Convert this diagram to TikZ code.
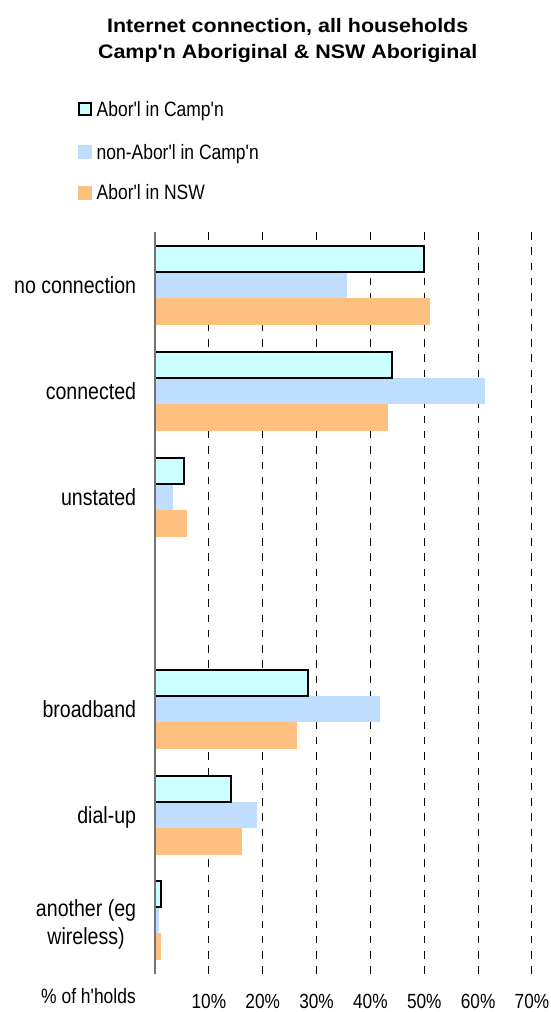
\documentclass[tikz,border=0pt]{standalone}
\usepackage{fontspec}
\usepackage{tikz}
\newfontfamily\chartfont{Liberation Sans}[FakeStretch=0.84]
\newfontfamily\titlefont{Liberation Sans}[FakeStretch=1.1]
\definecolor{campcol}{RGB}{204,255,255}
\definecolor{noncol}{RGB}{191,222,255}
\definecolor{nswcol}{RGB}{255,191,127}

\begin{document}
\begin{tikzpicture}[x=1pt, y=-1pt,
  campbar/.style={fill=campcol, draw=black, line width=2pt},
  nonbar/.style={fill=noncol},
  nswbar/.style={fill=nswcol},
  gridline/.style={black, line width=1pt, dash pattern=on 7.5pt off 7.8pt},
  axisline/.style={black!55, line width=1.2pt},
  catlabel/.style={anchor=base east, inner sep=0pt, align=center, font=\chartfont\fontsize{23.3}{27.3}\selectfont},
  keylabel/.style={anchor=base west, inner sep=0pt, font=\chartfont\fontsize{20.8}{25}\selectfont},
  ticklabel/.style={anchor=base, inner sep=0pt, font=\chartfont\fontsize{20.5}{25}\selectfont}]

\useasboundingbox (0, 0) rectangle (550, 1012);

\node[anchor=base, align=center, inner sep=0pt, font=\titlefont\bfseries\fontsize{19.5}{26}\selectfont] (title) at (287.7, 58.3) {Internet connection, all households\\Camp'n Aboriginal \& NSW Aboriginal};

\filldraw[campbar] (78.5, 102.7) rectangle (90.8, 115);
\fill[nonbar] (78, 145) rectangle (92, 159);
\fill[nswbar] (78, 186) rectangle (92, 199.5);

\node[keylabel] (keycamp) at (96.5, 116) {Abor'l in Camp'n};
\node[keylabel] (keynon) at (96.5, 159) {non-Abor'l in Camp'n};
\node[keylabel] (keynsw) at (96.5, 199.5) {Abor'l in NSW};

\begin{scope}[xshift=155pt, x=5.385pt]

\draw[gridline] (10, 232) -- (10, 973.5);
\draw[gridline] (20, 232) -- (20, 973.5);
\draw[gridline] (30, 232) -- (30, 973.5);
\draw[gridline] (40, 232) -- (40, 973.5);
\draw[gridline] (50, 232) -- (50, 973.5);
\draw[gridline] (60, 232) -- (60, 973.5);
\draw[gridline] (70, 232) -- (70, 973.5);

\fill[nonbar] (0, 271.8) rectangle (35.6, 298.2);
\fill[nswbar] (0, 298.2) rectangle (51.1, 324.6);
\filldraw[campbar] (0, 246.4) rectangle (50.0, 271.8);

\fill[nonbar] (0, 377.8) rectangle (61.3, 404.2);
\fill[nswbar] (0, 404.2) rectangle (43.3, 430.6);
\filldraw[campbar] (0, 352.4) rectangle (44.0, 377.8);

\fill[nonbar] (0, 483.8) rectangle (3.3, 510.2);
\fill[nswbar] (0, 510.2) rectangle (5.9, 536.6);
\filldraw[campbar] (0, 458.4) rectangle (5.4, 483.8);

\fill[nonbar] (0, 695.8) rectangle (41.8, 722.2);
\fill[nswbar] (0, 722.2) rectangle (26.4, 748.6);
\filldraw[campbar] (0, 670.4) rectangle (28.5, 695.8);

\fill[nonbar] (0, 801.8) rectangle (18.9, 828.2);
\fill[nswbar] (0, 828.2) rectangle (16.1, 854.6);
\filldraw[campbar] (0, 776.4) rectangle (14.2, 801.8);

\fill[nonbar] (0, 907.3) rectangle (0.74, 933.2);
\fill[nswbar] (0, 933.2) rectangle (1.06, 959.5);
\filldraw[campbar] (0, 881) rectangle (1.06, 906.5);

\draw[axisline] (0, 232) -- (0, 973.5);

\node[ticklabel] (tick10) at (10, 1008) {10\%};
\node[ticklabel] (tick20) at (20, 1008) {20\%};
\node[ticklabel] (tick30) at (30, 1008) {30\%};
\node[ticklabel] (tick40) at (40, 1008) {40\%};
\node[ticklabel] (tick50) at (50, 1008) {50\%};
\node[ticklabel] (tick60) at (60, 1008) {60\%};
\node[ticklabel] (tick70) at (70, 1008) {70\%};

\end{scope}

\node[catlabel] (noconn) at (136.3, 293.3) {no connection};
\node[catlabel] (conn) at (136.3, 399.3) {connected};
\node[catlabel] (unstated) at (136.3, 505.3) {unstated};
\node[catlabel] (broadband) at (136.3, 717.3) {broadband};
\node[catlabel] (dialup) at (136.3, 823.3) {dial-up};
\node[catlabel] (another) at (136.3, 944) {another (eg\\wireless)};

\node[keylabel, anchor=base east] (units) at (136, 1003.3) {\% of h'holds};

\end{tikzpicture}
\end{document}
